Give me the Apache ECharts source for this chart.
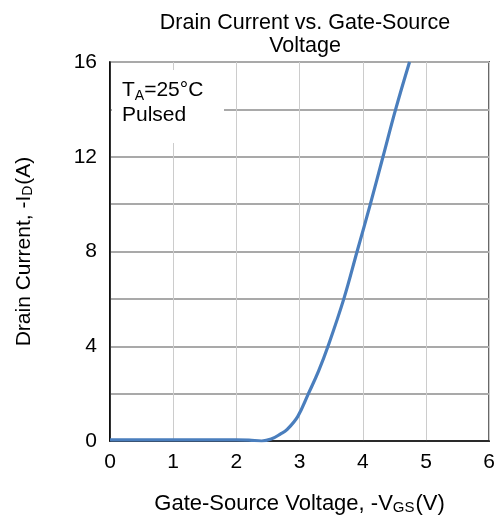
<!DOCTYPE html>
<html>
<head>
<meta charset="utf-8">
<script src="https://cdn.jsdelivr.net/npm/echarts@6/dist/echarts.min.js"></script>
<style>html,body{margin:0;padding:0;background:#fff}#c{width:498px;height:522px}</style>
</head>
<body>
<div id="c"></div>
<script>
var vgs = [0, 0.5, 1, 1.5, 2, 2.2, 2.4, 2.55, 2.7, 2.8, 2.97, 3.14, 3.3, 3.45, 3.7, 3.91, 4.12, 4.32, 4.52, 4.74];
var idrain = [0.05, 0.05, 0.05, 0.05, 0.05, 0.04, 0.0, 0.08, 0.3, 0.48, 1.03, 2.0, 2.95, 4.0, 6.0, 8.0, 10.0, 12.0, 14.0, 16.0];
var xTicks = [0, 1, 2, 3, 4, 5, 6];
var yTicks = [0, 4, 8, 12, 16];

var FONT = 'Liberation Sans, Arial, sans-serif';
var chart = echarts.init(document.getElementById('c'));
chart.setOption({
  animation: false,
  backgroundColor: '#fff',
  title: {
    text: 'Drain Current vs. Gate-Source\nVoltage',
    left: 300, top: 7, textAlign: 'center',
    textStyle: { fontFamily: FONT, fontSize: 21.5, fontWeight: 'normal', color: '#000', lineHeight: 23 }
  },
  grid: { left: 110, top: 62, right: 8, bottom: 81, show: true, borderColor: '#000', borderWidth: 1.5, backgroundColor: 'transparent' },
  xAxis: {
    type: 'value', min: 0, max: 6, interval: 1,
    axisLine: { show: true, onZero: false, lineStyle: { color: '#000', width: 1.5 } },
    axisTick: { show: false },
    axisLabel: { fontFamily: FONT, fontSize: 21, color: '#000', margin: 11,
      formatter: function (v) { return xTicks.indexOf(v) >= 0 ? String(v) : ''; } },
    splitLine: { show: true, lineStyle: { color: '#cccccc', width: 1 } },
    name: '{a|Gate-Source Voltage, -V}{s|GS}{a|(V)}',
    nameLocation: 'middle', nameGap: 51,
    nameTextStyle: { rich: {
      a: { fontFamily: FONT, fontSize: 22, color: '#000' },
      s: { fontFamily: FONT, fontSize: 15, color: '#000', verticalAlign: 'bottom', padding: [8, 1, 0, 0] }
    } }
  },
  yAxis: {
    type: 'value', min: 0, max: 16, interval: 2,
    axisLine: { show: true, lineStyle: { color: '#000', width: 1.5 } },
    axisTick: { show: false },
    axisLabel: { fontFamily: FONT, fontSize: 21, color: '#000', margin: 13,
      formatter: function (v) { return yTicks.indexOf(v) >= 0 ? String(v) : ''; } },
    splitLine: { show: true, lineStyle: { color: '#a9a9a9', width: 2 } },
    name: '{a|Drain Current, -I}{s|D}{a|(A)}',
    nameLocation: 'middle', nameGap: 75, nameRotate: 90,
    nameTextStyle: { rich: {
      a: { fontFamily: FONT, fontSize: 21, color: '#000' },
      s: { fontFamily: FONT, fontSize: 14, color: '#000', verticalAlign: 'bottom', padding: [8, 1, 0, 0] }
    } }
  },
  graphic: [
    { type: 'rect', left: 112, top: 70, shape: { width: 112, height: 73 }, style: { fill: '#fff' }, z: 50 },
    { type: 'text', left: 122, top: 80, z: 51, style: {
      text: '{a|T}{s|A}{a|=25°C}\n{a|Pulsed}',
      rich: {
        a: { fontFamily: FONT, fontSize: 21, fill: '#000', lineHeight: 25 },
        s: { fontFamily: FONT, fontSize: 14, fill: '#000', verticalAlign: 'bottom', lineHeight: 25, padding: [8, 0, 0, 0] }
      } } }
  ],
  series: [{
    type: 'line',
    data: vgs.map(function (v, i) { return [v, idrain[i]]; }),
    smooth: 0.4,
    showSymbol: false,
    clip: true,
    lineStyle: { color: '#4a7ebd', width: 3.2 },
    z: 10
  }]
});
</script>
</body>
</html>
